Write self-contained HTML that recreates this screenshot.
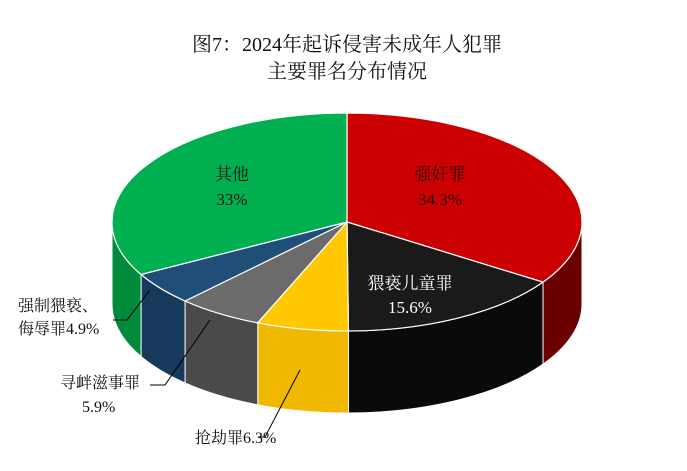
<!DOCTYPE html>
<html><head><meta charset="utf-8"><style>
html,body{margin:0;padding:0;background:#fff;}
svg{display:block;font-family:"Liberation Serif","Noto Serif CJK SC",serif;}
</style></head><body>
<svg id="s" width="687" height="471" viewBox="0 0 687 471" xmlns="http://www.w3.org/2000/svg">
<g id="pie"></g>
<g font-size="20" text-anchor="middle" fill="#111">
<text x="347" y="51">图7：2024年起诉侵害未成年人犯罪</text>
<text x="347" y="78">主要罪名分布情况</text>
</g>
<g font-size="17" text-anchor="middle">
<text x="232" y="180" fill="#111">其他</text>
<text x="232" y="205" fill="#111">33%</text>
<text x="440" y="180" fill="#2a0000">强奸罪</text>
<text x="440" y="205" fill="#2a0000">34.3%</text>
<text x="410" y="289" fill="#fff">猥亵儿童罪</text>
<text x="410" y="313" fill="#fff">15.6%</text>
</g>
<g font-size="16" fill="#111">
<text x="18" y="311">强制猥亵、</text>
<text x="18" y="334">侮辱罪4.9%</text>
<text x="60" y="388">寻衅滋事罪</text>
<text x="82" y="412">5.9%</text>
<text x="195" y="443">抢劫罪6.3%</text>
</g>
<g stroke="#000" stroke-width="1" fill="none">
<polyline points="113,320 127,320 150,290"/>
<polyline points="150,385 165,385 210,320"/>
<polyline points="258,437 265,437 300,370"/>
</g>
</svg>
<script>
var cx=347,cy=222,rx=235,ry=109,d=82;
var data=[[34.3,"#cc0000","#6a0000"],[15.6,"#1a1a1a","#0a0a0a"],[6.3,"#ffc800","#f0b800"],[5.9,"#6b6b6b","#4a4a4a"],[4.9,"#1f4e79","#173a5c"],[33,"#00b050","#008a3c"]];
function P(a,dy){var r=a*Math.PI/180;return [cx+rx*Math.sin(r),cy-ry*Math.cos(r)+(dy||0)];}
var g=document.getElementById("pie"),a=0,tops="",sides="";
data.forEach(function(e){
 var a1=a,a2=a+e[0]*3.6;a=a2;
 var p1=P(a1),p2=P(a2),lg=(a2-a1)>180?1:0;
 tops+='<path d="M'+cx+','+cy+' L'+p1+' A'+rx+' '+ry+' 0 '+lg+' 1 '+p2+' Z" fill="'+e[1]+'" stroke="#fff" stroke-width="1.2"/>';
 var b1=Math.max(a1,90),b2=Math.min(a2,270);
 if(b2>b1){var q1=P(b1),q2=P(b2),q3=P(b2,d),q4=P(b1,d);
  sides+='<path d="M'+q1+' A'+rx+' '+ry+' 0 0 1 '+q2+' L'+q3+' A'+rx+' '+ry+' 0 0 0 '+q4+' Z" fill="'+e[2]+'" stroke="#fff" stroke-width="1"/>';}
});
g.innerHTML=sides+tops;
</script>
</body></html>
